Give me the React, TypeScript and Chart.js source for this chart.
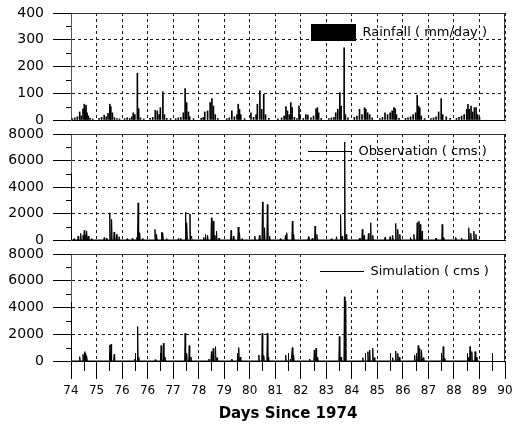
import React, { useEffect, useRef } from 'react';
import { Chart, registerables } from 'chart.js';

Chart.register(...registerables);

// ---------- data (x = position along the year axis, 0 = "74") ----------
const xLabels = ['74', '75', '76', '76', '77', '78', '79', '80', '81', '82', '83', '84', '85', '86', '87', '88', '89', '90'];

const rainfall: [number, number][] = [
  [0.05, 5], [0.15, 8], [0.25, 12], [0.34, 30], [0.40, 15], [0.47, 42], [0.52, 59], [0.56, 40], [0.59, 55], [0.63, 27], [0.68, 15], [0.75, 6], [0.85, 4],
  [1.10, 6], [1.20, 10], [1.30, 18], [1.38, 12], [1.45, 25], [1.52, 59], [1.56, 50], [1.62, 27], [1.70, 9], [1.80, 5], [1.90, 4],
  [2.10, 5], [2.20, 8], [2.30, 6], [2.38, 12], [2.44, 27], [2.50, 20], [2.60, 175], [2.65, 42], [2.72, 8], [2.85, 4],
  [3.10, 6], [3.20, 10], [3.30, 36], [3.38, 34], [3.45, 20], [3.50, 46], [3.60, 105], [3.66, 20], [3.75, 6], [3.90, 5],
  [4.10, 5], [4.20, 8], [4.30, 10], [4.40, 27], [4.47, 117], [4.53, 65], [4.60, 30], [4.65, 12], [4.80, 5],
  [5.10, 6], [5.18, 10], [5.24, 30], [5.35, 34], [5.45, 65], [5.52, 80], [5.58, 52], [5.65, 20], [5.75, 6],
  [6.10, 5], [6.20, 8], [6.30, 34], [6.40, 12], [6.50, 20], [6.55, 59], [6.60, 40], [6.65, 20], [6.80, 5],
  [7.05, 27], [7.15, 10], [7.25, 20], [7.30, 59], [7.40, 109], [7.47, 40], [7.55, 96], [7.62, 20], [7.75, 6],
  [8.10, 5], [8.25, 8], [8.35, 15], [8.42, 50], [8.48, 34], [8.55, 20], [8.61, 65], [8.66, 46], [8.75, 10], [8.85, 5], [8.93, 52], [8.97, 20],
  [9.10, 6], [9.20, 20], [9.28, 18], [9.40, 8], [9.50, 15], [9.60, 42], [9.65, 46], [9.70, 27], [9.80, 6],
  [10.10, 5], [10.20, 8], [10.30, 10], [10.37, 27], [10.45, 40], [10.53, 102], [10.58, 52], [10.70, 270], [10.75, 20], [10.85, 8],
  [11.10, 10], [11.20, 15], [11.30, 40], [11.40, 20], [11.50, 46], [11.55, 40], [11.62, 27], [11.70, 20], [11.80, 8],
  [12.10, 5], [12.20, 10], [12.30, 27], [12.40, 20], [12.50, 27], [12.58, 34], [12.65, 46], [12.70, 42], [12.75, 20], [12.85, 6],
  [13.10, 6], [13.20, 8], [13.30, 12], [13.40, 20], [13.50, 27], [13.56, 92], [13.61, 52], [13.66, 46], [13.72, 15], [13.85, 5],
  [14.10, 5], [14.20, 8], [14.30, 12], [14.40, 30], [14.50, 80], [14.56, 20], [14.70, 12], [14.85, 6],
  [15.10, 6], [15.20, 10], [15.30, 15], [15.40, 20], [15.50, 40], [15.55, 59], [15.60, 40], [15.67, 52], [15.73, 30], [15.80, 46], [15.87, 46], [15.93, 20], [16.00, 10],
];

const observation: [number, number][] = [
  [0.00, 5000], [0.12, 100], [0.28, 300], [0.38, 500], [0.47, 350], [0.52, 725], [0.58, 400], [0.62, 675], [0.68, 300], [0.80, 100],
  [1.30, 175], [1.40, 150], [1.52, 2050], [1.59, 1550], [1.69, 600], [1.78, 425], [1.88, 250],
  [2.20, 100], [2.40, 120], [2.58, 200], [2.63, 2800], [2.69, 550], [2.80, 100],
  [3.29, 800], [3.35, 425], [3.55, 600], [3.60, 550], [3.75, 100],
  [4.20, 100], [4.30, 120], [4.49, 2100], [4.54, 1300], [4.66, 1975], [4.72, 300],
  [5.20, 200], [5.27, 425], [5.35, 350], [5.50, 1675], [5.57, 1425], [5.62, 350], [5.70, 675], [5.80, 150],
  [6.27, 725], [6.36, 300], [6.55, 975], [6.60, 550], [6.70, 100],
  [7.20, 300], [7.38, 350], [7.50, 2875], [7.58, 925], [7.69, 2675], [7.78, 300],
  [8.20, 100], [8.40, 350], [8.45, 550], [8.67, 1425], [8.72, 425],
  [9.30, 250], [9.45, 150], [9.56, 1050], [9.63, 425],
  [10.20, 100], [10.40, 250], [10.56, 1925], [10.62, 300], [10.72, 7400], [10.78, 425],
  [11.30, 150], [11.41, 800], [11.48, 350], [11.65, 500], [11.74, 1300], [11.82, 350],
  [12.30, 200], [12.50, 250], [12.60, 350], [12.72, 1250], [12.80, 800], [12.88, 425],
  [13.30, 200], [13.43, 425], [13.56, 1300], [13.63, 1425], [13.68, 1175], [13.75, 675],
  [14.30, 150], [14.54, 1175], [14.60, 200],
  [15.07, 200], [15.30, 150], [15.58, 925], [15.66, 500], [15.78, 675], [15.86, 425],
];

const simulation: [number, number][] = [
  [0.00, 4400], [0.34, 325], [0.47, 500], [0.54, 700], [0.58, 575], [0.62, 400],
  [1.52, 1200], [1.57, 1250], [1.69, 500],
  [2.50, 150], [2.61, 2575], [2.66, 300],
  [3.30, 100], [3.53, 1150], [3.62, 1325], [3.68, 300],
  [4.47, 2075], [4.53, 575], [4.63, 1150], [4.70, 300],
  [5.40, 150], [5.50, 700], [5.57, 950], [5.66, 1075], [5.72, 250],
  [6.30, 150], [6.57, 1000], [6.63, 300],
  [7.36, 450], [7.49, 2075], [7.55, 400], [7.69, 2075], [7.74, 300],
  [8.41, 450], [8.60, 150], [8.67, 1000], [8.72, 450],
  [9.35, 150], [9.53, 825], [9.60, 950], [9.66, 300],
  [10.51, 1825], [10.58, 300], [10.71, 4800], [10.76, 4500],
  [11.43, 250], [11.63, 700], [11.70, 825], [11.82, 950], [11.88, 250],
  [12.60, 250], [12.72, 750], [12.80, 575], [12.86, 300],
  [13.46, 450], [13.60, 1150], [13.66, 950], [13.73, 825], [13.80, 250],
  [14.58, 1075], [14.64, 200],
  [15.56, 250], [15.63, 1075], [15.70, 700], [15.83, 700], [15.88, 300],
];

const BASE_FLOW = 0;      // flow between events
const RECORD_END = 16.0;  // last day of record on the year axis
const X_MAX = 17;

// ---------- styling ----------
const FONT = "'DejaVu Sans', 'Liberation Sans', sans-serif";
const GRID = '#1a1a1a';
const AXIS_W = 71;

function spikeLine(peaks: [number, number][]) {
  const half = 0.02;
  const pts: { x: number; y: number }[] = [];
  peaks.forEach(([x, y]) => {
    pts.push({ x: x - half, y: BASE_FLOW }, { x, y }, { x: x + half, y: BASE_FLOW });
  });
  pts.push({ x: RECORD_END, y: BASE_FLOW });
  return pts;
}

const legendPlace = {
  id: 'legendPlace',
  afterLayout(chart: any, _a: any, opts: any) {
    const lg = chart.legend;
    if (!lg) return;
    const ca = chart.chartArea;
    lg.left = ca.left + opts.dx;
    lg.top = ca.top + opts.dy;
    lg.right = ca.right;
    lg.bottom = ca.bottom;
    if (!lg.__wrapped) {
      const orig = lg.draw;
      lg.draw = function (...args: any[]) {
        const m = chart.options.plugins.legendPlace;
        if (m && m.maskDx != null) {
          const c = chart.chartArea;
          const ctx = chart.ctx;
          ctx.save();
          ctx.fillStyle = '#fff';
          ctx.fillRect(c.left + m.maskDx, c.top + 1, c.right - c.left - m.maskDx - 1, m.maskH);
          ctx.restore();
        }
        return orig.apply(this, args);
      };
      lg.__wrapped = true;
    }
  },
};

const axisExtras = {
  id: 'axisExtras',
  afterDraw(chart: any, _a: any, opts: any) {
    const ctx = chart.ctx;
    const ca = chart.chartArea;
    const ys = chart.scales.y;
    const xs = chart.scales.x;
    ctx.save();
    ctx.setLineDash([]);
    ctx.lineWidth = 1;
    ctx.strokeStyle = '#000';
    ctx.beginPath();
    const yt = ys.ticks.map((t: any) => t.value);
    for (let i = 0; i < yt.length - 1; i++) {
      const py = Math.round(ys.getPixelForValue((yt[i] + yt[i + 1]) / 2)) + 0.5;
      ctx.moveTo(ca.left - 5, py);
      ctx.lineTo(ca.left, py);
    }
    if (opts.xMinor) {
      const xt = xs.ticks.map((t: any) => t.value);
      for (let i = 0; i < xt.length - 1; i++) {
        const px = Math.round(xs.getPixelForValue((xt[i] + xt[i + 1]) / 2)) + 0.5;
        ctx.moveTo(px, ca.bottom - 8);
        ctx.lineTo(px, ca.bottom + 10);
      }
    }
    ctx.stroke();
    // frame (top and right)
    ctx.strokeStyle = '#333';
    ctx.beginPath();
    const top = Math.round(ca.top) + 0.5;
    const right = Math.round(ca.right) - 0.5;
    ctx.moveTo(ca.left, top);
    ctx.lineTo(right, top);
    ctx.lineTo(right, ca.bottom);
    ctx.stroke();
    ctx.restore();
  },
};

function yScale(max: number, step: number) {
  return {
    type: 'linear',
    min: 0,
    max,
    ticks: {
      stepSize: step,
      padding: 9,
      color: '#000',
      font: { family: FONT, size: 14 },
      callback: (v: any) => String(v),
    },
    grid: { color: GRID, lineWidth: 1, drawTicks: true, tickLength: 18, tickColor: '#000', tickWidth: 1 },
    border: { display: true, color: '#555', width: 1, dash: [3, 3] },
    afterFit: (s: any) => {
      s.width = AXIS_W;
      s.paddingTop = 0;
      s.paddingBottom = 0;
    },
  };
}

function xScale(bottom: boolean) {
  return {
    type: 'linear',
    min: 0,
    max: X_MAX,
    offset: false,
    ticks: bottom
      ? {
          stepSize: 1,
          maxTicksLimit: 100,
          autoSkip: false,
          maxRotation: 0,
          padding: 5,
          color: '#000',
          font: { family: FONT, size: 12 },
          callback: (v: any) => xLabels[Math.round(Number(v))] ?? '',
        }
      : { stepSize: 1, maxTicksLimit: 100, display: false },
    grid: { offset: false, color: GRID, lineWidth: 1, drawTicks: bottom, tickLength: 18, tickColor: '#000', tickWidth: 1 },
    border: { display: true, color: '#000', width: 1, dash: [3, 3] },
    title: bottom
      ? {
          display: true,
          text: 'Days Since 1974',
          color: '#000',
          font: { family: FONT, size: 15, weight: 'bold' },
          padding: { top: 2, bottom: 0 },
        }
      : { display: false },
    afterFit: bottom
      ? undefined
      : (s: any) => {
          s.height = 0;
        },
  };
}

function baseOptions(padding: any, legendLabels: any, place: any, xMinor: boolean, yMax: number, yStep: number, bottom: boolean) {
  return {
    responsive: false,
    animation: false,
    devicePixelRatio: 1,
    events: [],
    layout: { padding },
    scales: { x: xScale(bottom), y: yScale(yMax, yStep) },
    plugins: {
      tooltip: { enabled: false },
      legend: {
        display: true,
        position: 'chartArea',
        align: 'start',
        labels: { padding: 0, color: '#000', font: { family: FONT, size: 13 }, ...legendLabels },
      },
      legendPlace: place,
      axisExtras: { xMinor },
    },
  };
}

function rainConfig(): any {
  return {
    type: 'bar',
    data: {
      datasets: [
        {
          label: 'Rainfall ( mm/day )',
          data: rainfall.map(([x, y]) => ({ x, y })),
          backgroundColor: '#000',
          borderWidth: 0,
          barThickness: 1,
        },
      ],
    },
    options: baseOptions({ top: 13, right: 16, bottom: 10, left: 0 }, { boxWidth: 45, boxHeight: 17 }, { dx: 240, dy: 11 }, false, 400, 100, false),
    plugins: [legendPlace, axisExtras],
  };
}

function flowConfig(label: string, peaks: [number, number][], bottom: boolean, place: any, padding: any): any {
  return {
    type: 'line',
    data: {
      datasets: [
        {
          label,
          data: spikeLine(peaks),
          borderColor: '#000',
          backgroundColor: '#000',
          borderWidth: 1,
          pointRadius: 0,
          tension: 0,
          fill: false,
        },
      ],
    },
    options: baseOptions(padding, { usePointStyle: true, pointStyle: 'line', pointStyleWidth: 44, boxHeight: 13 }, place, bottom, 8000, 2000, bottom),
    plugins: [legendPlace, axisExtras],
  };
}

export default function App() {
  const r1 = useRef<HTMLCanvasElement>(null);
  const r2 = useRef<HTMLCanvasElement>(null);
  const r3 = useRef<HTMLCanvasElement>(null);

  useEffect(() => {
    const charts = [
      new Chart(r1.current as HTMLCanvasElement, rainConfig()),
      new Chart(
        r2.current as HTMLCanvasElement,
        flowConfig('Observation ( cms )', observation, false, { dx: 237, dy: 11 }, { top: 12, right: 16, bottom: 10, left: 0 })
      ),
      new Chart(
        r3.current as HTMLCanvasElement,
        flowConfig('Simulation ( cms )', simulation, true, { dx: 249, dy: 11, maskDx: 236, maskH: 33 }, { top: 12, right: 16, bottom: 7.6, left: 0 })
      ),
    ];
    return () => charts.forEach((c) => c.destroy());
  }, []);

  const cv = (top: number, h: number): React.CSSProperties => ({ position: 'absolute', left: 0, top, width: 521, height: h });

  return (
    <div style={{ position: 'absolute', left: 0, top: 0, width: 521, height: 431, background: '#fff', overflow: 'hidden' }}>
      <canvas ref={r1} width={521} height={130} style={cv(0, 130)} />
      <canvas ref={r2} width={521} height={128} style={cv(122, 128)} />
      <canvas ref={r3} width={521} height={189} style={cv(242, 189)} />
    </div>
  );
}
